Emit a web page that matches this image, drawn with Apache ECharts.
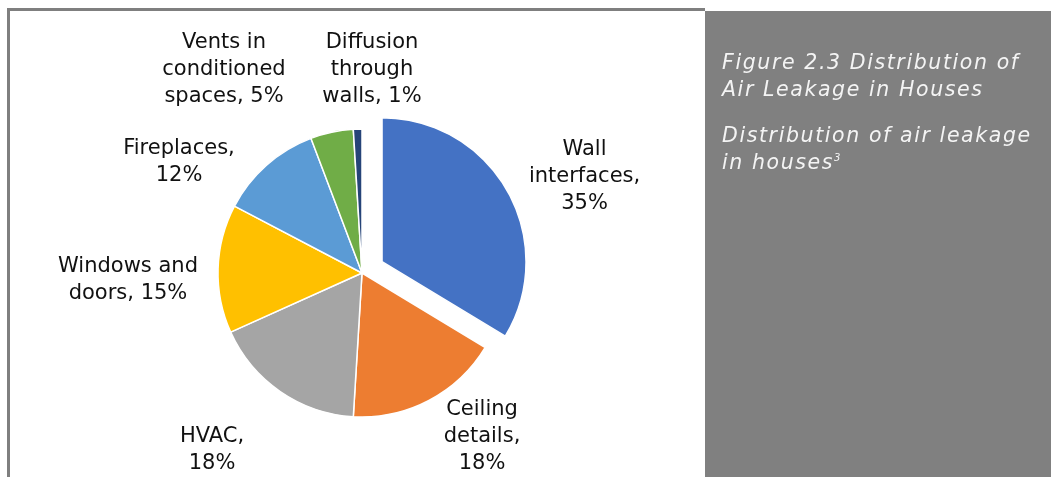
<!DOCTYPE html>
<html>
<head>
<meta charset="utf-8">
<script src="https://cdn.jsdelivr.net/npm/echarts@6/dist/echarts.min.js"></script>
<style>
  html, body { margin: 0; padding: 0; background: #fff; }
  #wrap { position: relative; width: 1051px; height: 477px; }
  #chart { width: 1051px; height: 477px; }
  .caption {
    position: absolute; left: 722px; margin: 0;
    color: #f4f4f4; font: italic 20.5px/27px "DejaVu Sans", sans-serif;
    letter-spacing: 1.6px; white-space: nowrap;
  }
  .caption sup { font-size: 10px; letter-spacing: 0; vertical-align: 8px; line-height: 0; }
</style>
</head>
<body>
<div id="wrap">
  <div id="chart"></div>
  <p class="caption" style="top:49px">Figure 2.3 Distribution of<br>Air Leakage in Houses</p>
  <p class="caption" style="top:122px">Distribution of air leakage<br>in houses<sup>3</sup></p>
</div>
<script>
// categories (with the line breaks used in the labels) and values in percent
const categories = [
  "Wall\ninterfaces",
  "Ceiling\ndetails",
  "HVAC",
  "Windows and\ndoors",
  "Fireplaces",
  "Vents in\nconditioned\nspaces",
  "Diffusion\nthrough\nwalls"
];
const values = [35, 18, 18, 15, 12, 5, 1];
// whether the percent goes on its own line
const valueOnNewLine = [true, true, true, false, true, false, false];
const colors = ["#4472C4", "#ED7D31", "#A5A5A5", "#FFC000", "#5B9BD5", "#70AD47", "#264478"];

// where each label block is centred (px)
const labelSpots = [
  [584, 175], [482, 437], [212, 450], [128, 280], [179, 162], [224, 70], [372, 70]
];

const labelText = (p) => p.name + "," + (valueOnNewLine[p.dataIndex] ? "\n" : " ") + p.value + "%";

const chart = echarts.init(document.getElementById("chart"));

const options = {
  animation: false,
  graphic: [
    // frame of the chart area
    { type: "rect", shape: { x: 7, y: 8, width: 698, height: 3 }, style: { fill: "#7f7f7f" }, silent: true },
    { type: "rect", shape: { x: 7, y: 8, width: 3, height: 470 }, style: { fill: "#7f7f7f" }, silent: true },
    // grey caption panel
    { type: "rect", shape: { x: 705, y: 11, width: 346, height: 466 }, style: { fill: "#808080" }, silent: true }
  ],
  series: [
    {
      type: "pie",
      center: [362, 273],
      radius: 144,
      startAngle: 90,
      clockwise: true,
      selectedMode: "single",
      selectedOffset: 23,
      avoidLabelOverlap: false,
      emphasis: { disabled: true },
      itemStyle: { borderColor: "#fff", borderWidth: 1.5 },
      label: {
        show: true,
        position: "outside",
        color: "#111",
        fontFamily: "DejaVu Sans",
        fontSize: 21,
        lineHeight: 27,
        align: "center",
        formatter: labelText
      },
      labelLine: { show: false },
      labelLayout: (p) => ({
        x: labelSpots[p.dataIndex][0],
        y: labelSpots[p.dataIndex][1],
        align: "center",
        verticalAlign: "middle"
      }),
      data: categories.map((name, i) => ({
        name: name,
        value: values[i],
        selected: i === 0,
        itemStyle: { color: colors[i] },
        // the pulled-out slice keeps the default label spot, so nudge its text
        label: i === 0 ? {
          padding: [0, 0, 0, 58],
          formatter: (p) => labelText(p) + "\n{g|}",
          rich: { g: { lineHeight: 14 } }
        } : undefined
      }))
    }
  ]
};

chart.setOption(options);
</script>
</body>
</html>
